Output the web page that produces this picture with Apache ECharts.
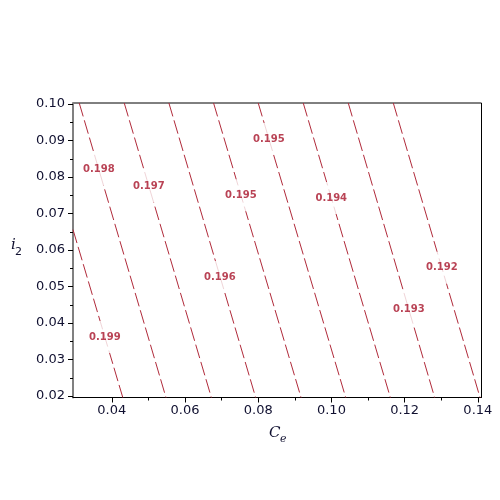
<!DOCTYPE html>
<html>
<head>
<meta charset="utf-8">
<script src="https://cdn.jsdelivr.net/npm/echarts@6/dist/echarts.min.js"></script>
<style>html,body{margin:0;padding:0;background:#fff}#c{width:500px;height:500px}</style>
</head>
<body>
<div id="c"></div>
<script>
// contour levels (as labelled)
const levelLabels = ['0.199','0.198','0.197','0.196','0.195','0.195','0.194','0.193','0.192'];
// contour line endpoints (C_e, i_2)
const lineStartX = [0.0294, 0.0311, 0.0434, 0.0556, 0.0678, 0.0800, 0.0923, 0.1046, 0.1169];
const lineStartY = [0.0656, 0.1003, 0.1003, 0.1003, 0.1003, 0.1003, 0.1003, 0.1003, 0.1003];
const lineEndX   = [0.0430, 0.0548, 0.0672, 0.0793, 0.0917, 0.1039, 0.1161, 0.1282, 0.1406];
const lineEndY   = [0.0196, 0.0196, 0.0196, 0.0196, 0.0196, 0.0196, 0.0196, 0.0196, 0.0196];
// contour label positions
const labelX = [0.03811, 0.03648, 0.05014, 0.06954, 0.07527, 0.08292, 0.09995, 0.12117, 0.13019];
const labelY = [0.03616, 0.08211, 0.07745, 0.05260, 0.07499, 0.09041, 0.07425, 0.04384, 0.05515];
// axes
const xMin = 0.0294, xMax = 0.1410;
const yMin = 0.0196, yMax = 0.1003;
const xMajor = [0.04, 0.06, 0.08, 0.10, 0.12, 0.14];
const xMinor = [0.05, 0.07, 0.09, 0.11, 0.13];
const yMajor = [0.02, 0.03, 0.04, 0.05, 0.06, 0.07, 0.08, 0.09, 0.10];
const yMinor = [0.025, 0.035, 0.045, 0.055, 0.065, 0.075, 0.085, 0.095];

const lineColor = '#b02a3a';
const labelColor = '#a8142a';
const tickFont = { fontFamily: 'DejaVu Sans', fontSize: 13, color: '#101030' };

const chart = echarts.init(document.getElementById('c'), null, { renderer: 'canvas' });

const series = levelLabels.map((lv, i) => ({
  type: 'line',
  data: [[lineStartX[i], lineStartY[i]], [lineEndX[i], lineEndY[i]]],
  showSymbol: false,
  symbol: 'none',
  clip: true,
  silent: true,
  lineStyle: { color: lineColor, width: 1, type: [14, 4] },
  z: 2
}));
series.push({
  type: 'scatter',
  data: levelLabels.map((lv, i) => ({ value: [labelX[i], labelY[i]], name: lv })),
  symbolSize: 1,
  itemStyle: { color: 'rgba(0,0,0,0)' },
  silent: true,
  z: 5,
  label: {
    show: true,
    position: 'inside',
    formatter: p => p.name,
    fontFamily: 'DejaVu Sans',
    fontWeight: 'bold',
    fontSize: 10,
    color: labelColor,
    backgroundColor: '#fff',
    padding: [11, 2]
  }
});

chart.setOption({
  animation: false,
  grid: { left: 73, top: 103, right: 18.5, bottom: 102.5, show: true, borderColor: '#000', borderWidth: 1, backgroundColor: 'transparent' },
  xAxis: [
    {
      type: 'value', min: xMin, max: xMax, position: 'bottom',
      axisLine: { show: true, lineStyle: { color: '#000', width: 1 } },
      axisTick: { show: true, inside: false, length: 5, customValues: xMajor, lineStyle: { color: '#000' } },
      axisLabel: { show: true, customValues: xMajor, margin: 7, formatter: v => v.toFixed(2), ...tickFont },
      splitLine: { show: false }
    },
    {
      type: 'value', min: xMin, max: xMax, position: 'bottom', offset: 0,
      axisLine: { show: false },
      axisTick: { show: true, inside: false, length: 3, customValues: xMinor, lineStyle: { color: '#000' } },
      axisLabel: { show: false },
      splitLine: { show: false }
    }
  ],
  yAxis: [
    {
      type: 'value', min: yMin, max: yMax, position: 'left',
      axisLine: { show: true, lineStyle: { color: '#808080', width: 2 } },
      axisTick: { show: true, inside: false, length: 5, customValues: yMajor, lineStyle: { color: '#000' } },
      axisLabel: { show: true, customValues: yMajor, margin: 8, formatter: v => v.toFixed(2), ...tickFont },
      splitLine: { show: false }
    },
    {
      type: 'value', min: yMin, max: yMax, position: 'left', offset: 0,
      axisLine: { show: false },
      axisTick: { show: true, inside: false, length: 3, customValues: yMinor, lineStyle: { color: '#000' } },
      axisLabel: { show: false },
      splitLine: { show: false }
    }
  ],
  graphic: [
    { type: 'text', left: 11, top: 238, style: { text: 'i', font: 'italic 15px "DejaVu Serif"', fill: '#101030' } },
    { type: 'text', left: 15, top: 247, style: { text: '2', font: '11px "DejaVu Sans"', fill: '#101030' } },
    { type: 'text', left: 269, top: 426, style: { text: 'C', font: 'italic 15px "DejaVu Serif"', fill: '#101030' } },
    { type: 'text', left: 280, top: 434, style: { text: 'e', font: 'italic 11px "DejaVu Serif"', fill: '#101030' } }
  ],
  series: series
});
</script>
</body>
</html>
